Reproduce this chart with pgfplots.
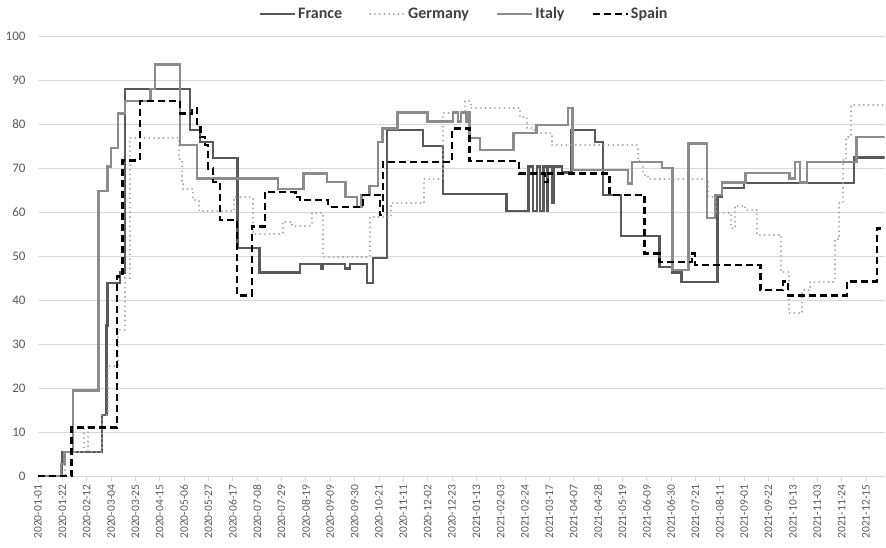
\documentclass[border=0pt]{standalone}
\usepackage{pgfplots}
\pgfplotsset{compat=1.18}
\usepackage{fontspec}
\setmainfont{Carlito}
\definecolor{gridgray}{HTML}{D9D9D9}
\definecolor{labelgray}{HTML}{595959}
\definecolor{frc}{HTML}{595959}
\definecolor{gec}{HTML}{A6A6A6}
\definecolor{itc}{HTML}{8C8C8C}
\begin{document}
\begin{tikzpicture}
\begin{axis}[
  scale only axis, width=846pt, height=440pt,
  xmin=0, xmax=730, ymin=0, ymax=100,
  axis x line*=bottom, axis y line*=left,
  x axis line style={draw=gridgray, line width=0.8pt, -},
  y axis line style={draw=none},
  xtick={0,21,...,714},
  xticklabels={2020-01-01,2020-01-22,2020-02-12,2020-03-04,2020-03-25,2020-04-15,2020-05-06,2020-05-27,2020-06-17,2020-07-08,2020-07-29,2020-08-19,2020-09-09,2020-09-30,2020-10-21,2020-11-11,2020-12-02,2020-12-23,2021-01-13,2021-02-03,2021-02-24,2021-03-17,2021-04-07,2021-04-28,2021-05-19,2021-06-09,2021-06-30,2021-07-21,2021-08-11,2021-09-01,2021-09-22,2021-10-13,2021-11-03,2021-11-24,2021-12-15},
  x tick label style={rotate=90, anchor=east, font=\fontsize{11.5}{12}\selectfont, text=labelgray},
  y tick label style={font=\fontsize{13}{14}\selectfont, text=labelgray, xshift=-4pt},
  /pgf/number format/assume math mode=true,
  ytick={0,10,...,100},
  ymajorgrids, grid style={draw=gridgray, line width=0.8pt},
  tick align=outside, major tick length=5pt,
  xtick style={draw=gridgray, line width=0.8pt},
  ytick style={draw=none},
  legend style={at={(0.5,1)}, anchor=center, yshift=22pt, xshift=3pt, draw=none, fill=none,
    legend columns=4, font=\fontsize{16}{17}\selectfont\bfseries, text=black!75,
    /tikz/every even column/.append style={column sep=25pt}},
  legend image code/.code={\draw[#1] (0pt,0pt) -- (35pt,0pt);},
]
% France
\addplot[const plot, draw=frc, line width=2.2pt] coordinates {
(0,0) (21,5.56) (55,13.89) (59,34.26) (60,43.98) (71,46.3) (75,87.96) (131,78.7) (140,75.93) (151,72.22) (172,51.85) (191,46.3) (226,48.15) (244,47.2) (246,48.15) (265,47.2) (269,48.15) (284,43.98) (289,49.54) (301,78.7) (332,75.0) (349,64.1) (404,60.19) (423,70.37) (427,60.19) (430,70.37) (433,60.19) (436,70.37) (439,60.19) (440,70.37) (443,62.0) (445,70.37) (452,68.98) (460,78.7) (480,75.93) (487,63.89) (503,54.63) (536,47.5) (547,46.3) (555,44.2) (586,63.5) (590,65.4) (609,66.7) (704,72.4) (730,72.4)
};
\addlegendentry{France}
% Germany
\addplot[const plot, draw=gec, line width=2pt, line cap=round, dash pattern=on 0.1pt off 4.6pt] coordinates {
(0,0) (23,5.56) (40,11.11) (43,5.56) (55,13.89) (60,25) (69,33.33) (75,45.0) (79,76.85) (122,72) (124,67) (125,65.2) (134,62.7) (139,60.19) (169,63.43) (185,55.09) (211,57.87) (219,56.94) (236,59.72) (246,49.77) (286,58.8) (304,62.04) (333,67.59) (349,82.41) (368,85.19) (373,83.56) (416,81.5) (422,79) (428,78.0) (443,75.2) (517,71.5) (522,68.5) (526,67.59) (578,63.5) (585,59.7) (598,56.3) (601,61.5) (610,60.5) (620,54.8) (641,46.3) (648,37) (659,42.3) (666,44.2) (687,53.8) (691,62) (694,71.8) (697,77.1) (701,84.26) (730,84.26)
};
\addlegendentry{Germany}
% Italy
\addplot[const plot, draw=itc, line width=2.4pt] coordinates {
(0,0) (20,2.78) (23,5.56) (30,19.44) (52,64.81) (60,70.37) (63,74.54) (69,82.41) (75,85.19) (97,87.96) (101,93.52) (122.5,75.2) (137,67.6) (207,65.2) (229,68.8) (249,66.9) (265,63.5) (275,61.2) (279,63.9) (286,65.9) (293,75.9) (297,79.0) (310,82.6) (336,80.56) (358,82.6) (362,80.56) (365,82.6) (369,80.56) (370,82.6) (372,76.85) (381,74.07) (410,78.0) (430,79.8) (457,83.6) (461,69.5) (509,66.5) (512,71.4) (538,70.0) (547,46.8) (561,75.6) (577,58.6) (584,63.9) (590,66.7) (610,68.9) (648,67.6) (653,71.4) (657,66.7) (663,71.4) (706,77.0) (730,77.0)
};
\addlegendentry{Italy}
% Spain
\addplot[const plot, draw=black, line width=2.4pt, dash pattern=on 7pt off 4pt] coordinates {
(0,0) (29,11.11) (68,45.37) (73,71.76) (88,85.19) (122.5,82.41) (133,83.6) (137,79.4) (140,77.1) (144,75.2) (146.5,69.9) (151,66.9) (157,58.2) (171.5,41.1) (184.5,56.7) (195.5,64.6) (222,63.4) (226,62.7) (250,61.2) (280,63.9) (295,59.3) (297.5,71.4) (357,79.0) (372,71.6) (415,68.8) (437,66.9) (440,68.8) (493,63.9) (523,50.6) (536,48.7) (564,50.6) (566.5,48.0) (623,42.3) (642.5,44.2) (647,41.1) (697.5,44.2) (723.5,56.3) (728,56.3)
};
\addlegendentry{Spain}
\end{axis}
\pgfresetboundingbox
\path ([xshift=-38pt,yshift=-71pt]current axis.south west) rectangle ([xshift=1.5pt,yshift=36pt]current axis.north east);
\end{tikzpicture}
\end{document}
